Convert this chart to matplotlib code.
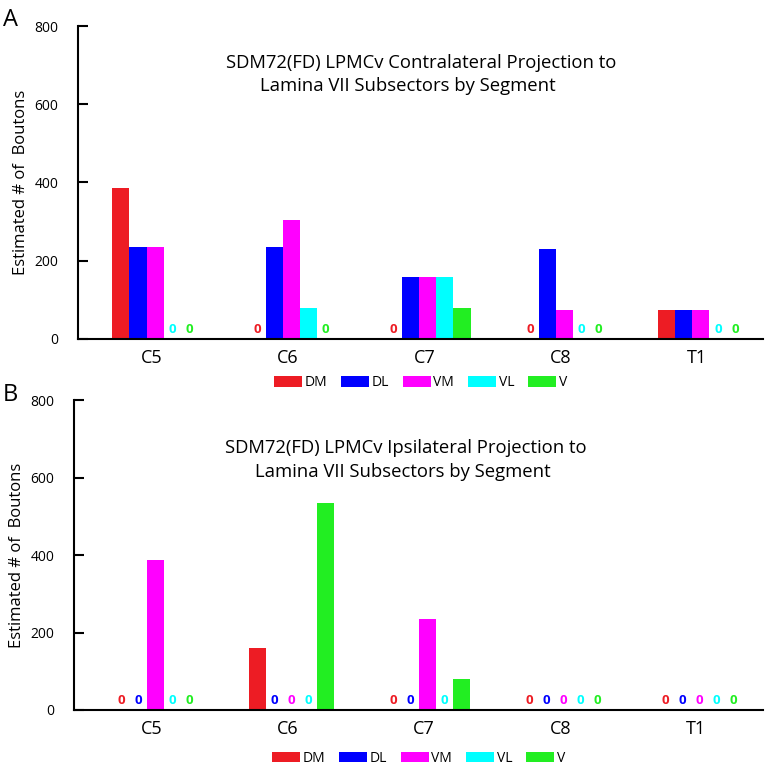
import numpy as np
import matplotlib.pyplot as plt
from matplotlib.patches import Patch

# segments and subsectors
segments = ['C5', 'C6', 'C7', 'C8', 'T1']
subsectors = ['DM', 'DL', 'VM', 'VL', 'V']
colors = ['#ed1c24', '#0000ff', '#ff00ff', '#00ffff', '#22ee22']

# panel A: contralateral
contra_DM = [387, 0, 0, 0, 75]
contra_DL = [236, 236, 158, 229, 75]
contra_VM = [236, 304, 158, 74, 75]
contra_VL = [0, 78, 158, 0, 0]
contra_V = [0, 0, 78, 0, 0]

# panel B: ipsilateral
ipsi_DM = [0, 159, 0, 0, 0]
ipsi_DL = [0, 0, 0, 0, 0]
ipsi_VM = [387, 0, 234, 0, 0]
ipsi_VL = [0, 0, 0, 0, 0]
ipsi_V = [0, 535, 80, 0, 0]

titles = [('SDM72(FD) LPMCv Contralateral Projection to', 'Lamina VII Subsectors by Segment'),
          ('SDM72(FD) LPMCv Ipsilateral Projection to', 'Lamina VII Subsectors by Segment')]

plt.rcParams['font.family'] = ['Open Sans', 'DejaVu Sans']

fig = plt.figure(figsize=(7.69, 7.65), dpi=100)
axA = fig.add_axes([0.1014, 0.5569, 0.8906, 0.4091])
axB = fig.add_axes([0.0962, 0.0719, 0.8958, 0.4052])

x = np.arange(len(segments))
w = 0.125
shift = 0.025


def draw(ax, series, title, tpos, xlim, leg_y):
    for i, (vals, c) in enumerate(zip(series, colors)):
        pos = x + shift + (i - 2) * w
        ax.bar(pos, vals, width=w, color=c, edgecolor='none')
        for p, v in zip(pos, vals):
            if v == 0:
                ax.text(p, 24, '0', color=c, ha='center', va='center',
                        fontsize=9.5, fontweight='bold')
    ax.set_xlim(*xlim)
    ax.set_ylim(0, 800)
    ax.set_yticks([0, 200, 400, 600, 800])
    ax.tick_params(axis='y', direction='in', length=7, width=1.5, labelsize=10, pad=14)
    ax.set_xticks(x)
    ax.set_xticklabels(segments, fontsize=13)
    ax.tick_params(axis='x', length=0, pad=7)
    for s in ['top', 'right']:
        ax.spines[s].set_visible(False)
    ax.spines['left'].set_linewidth(1.5)
    ax.spines['bottom'].set_linewidth(1.5)
    ax.set_ylabel('Estimated # of  Boutons', fontsize=12, labelpad=4)
    (x1, y1), (x2, y2) = tpos
    ax.text(x1, y1, title[0], transform=ax.transAxes, ha='center', va='center', fontsize=13.3)
    ax.text(x2, y2, title[1], transform=ax.transAxes, ha='center', va='center', fontsize=13.3)
    handles = [Patch(facecolor=c, edgecolor='none') for c in colors]
    ax.legend(handles, subsectors, loc='center', bbox_to_anchor=(0.5, leg_y), ncol=5,
              frameon=False, fontsize=10, handlelength=2.0, handleheight=0.75,
              handletextpad=0.2, columnspacing=1.0, borderpad=0)


draw(axA, [contra_DM, contra_DL, contra_VM, contra_VL, contra_V], titles[0],
     ((0.5007, 0.882), (0.482, 0.808)), (-0.54, 4.48), -0.14)
draw(axB, [ipsi_DM, ipsi_DL, ipsi_VM, ipsi_VL, ipsi_V], titles[1],
     ((0.482, 0.845), (0.477, 0.768)), (-0.574, 4.49), -0.155)

fig.text(0.004, 0.974, 'A', fontsize=17, va='center', ha='left')
fig.text(0.004, 0.484, 'B', fontsize=17, va='center', ha='left')

plt.savefig('out.png', dpi=100)
